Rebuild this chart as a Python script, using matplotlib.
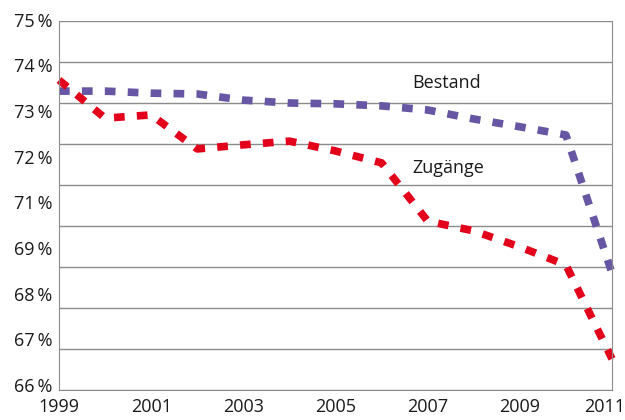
import numpy as np
import matplotlib.pyplot as plt
import matplotlib.transforms as mtransforms

plt.rcParams['font.family'] = ['Open Sans', 'DejaVu Sans']

# values, in gridline units (one gridline = 1)
years = [1999, 2000, 2001, 2002, 2003, 2004, 2005, 2006, 2007, 2008, 2009, 2010, 2011]
bestand = [73.29, 73.29, 73.24, 73.22, 73.07, 73.00, 72.98, 72.93, 72.83, 72.61, 72.42, 72.22, 68.85]
zugaenge = [73.56, 72.63, 72.71, 71.88, 71.98, 72.07, 71.83, 71.54, 70.12, 69.88, 69.49, 69.05, 66.76]

# the original labels do not line up with the gridlines (70 % is missing)
ylabels = ['75\u2009%', '74\u2009%', '73\u2009%', '72\u2009%', '71\u2009%', '69\u2009%', '68\u2009%', '67\u2009%', '66\u2009%']
xticks = [1999, 2001, 2003, 2005, 2007, 2009, 2011]

fig = plt.figure(figsize=(6.25, 4.2), dpi=100)
ax = fig.add_axes([59/625, 1 - 390/420, (612 - 59)/625, (390 - 21)/420])

ax.set_xlim(1999, 2011)
ax.set_ylim(66, 75)
ax.set_yticks(np.arange(66, 76, 1))
ax.set_yticklabels([])
ax.grid(axis='y', color='#8c8c8c', lw=1)
ax.set_axisbelow(True)
ax.tick_params(length=0)
ax.set_xticks(xticks)
ax.set_xticklabels([str(x) for x in xticks], fontsize=13, color='#1a1a1a')
ax.tick_params(axis='x', pad=6)
# last year label sits right at the figure edge, pull it in a bit
last = ax.get_xticklabels()[-1]
last.set_transform(last.get_transform() + mtransforms.ScaledTranslation(-7/100, 0, fig.dpi_scale_trans))
for s in ['left', 'right', 'bottom']:
    ax.spines[s].set_color('#8c8c8c')
ax.spines['top'].set_visible(False)

trans = mtransforms.blended_transform_factory(ax.transAxes, ax.transData)
for pos, lab in zip(np.linspace(74.98, 66.07, 9), ylabels):
    ax.text(-0.012, pos, lab, transform=trans, ha='right', va='center', fontsize=13, color='#1a1a1a')

ax.plot(years, bestand, color='#6656a3', lw=5.5, linestyle=(0, (1.4, 1.6)), solid_capstyle='butt', dash_capstyle='butt', clip_on=False)
ax.plot(years, zugaenge, color='#e2001a', lw=5.5, linestyle=(0, (1.4, 1.6)), solid_capstyle='butt', dash_capstyle='butt', clip_on=False)

ax.text(2006.66, 73.49, 'Bestand', fontsize=13, color='#1a1a1a', va='center')
ax.text(2006.66, 71.41, 'Zugänge', fontsize=13, color='#1a1a1a', va='center')

fig.savefig('out.png', dpi=100)
